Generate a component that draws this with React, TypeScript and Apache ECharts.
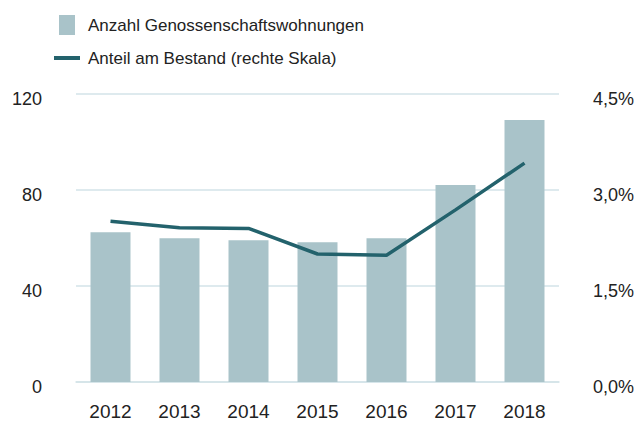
import React, { useEffect, useRef } from "react";
import * as echarts from "echarts";

const years = ["2012", "2013", "2014", "2015", "2016", "2017", "2018"];
const wohnungen = [62.4, 59.9, 59.1, 58.2, 59.9, 82.1, 109.2];
const anteil = [2.51, 2.41, 2.4, 2.0, 1.98, 2.69, 3.42];
const barName = "Anzahl Genossenschaftswohnungen";
const lineName = "Anteil am Bestand (rechte Skala)";

export default function App() {
  const ref = useRef<HTMLDivElement>(null);
  useEffect(() => {
    const chart = echarts.init(ref.current!, null, { renderer: "svg" });
    const font = "'Liberation Sans', Arial, sans-serif";
    const grid = "#d3e3e8";
    const txt = "#222";
    const richV = { v: { fontSize: 18, color: txt, fontFamily: font, padding: [9, 0, 0, 0] } };
    chart.setOption({
      animation: false,
      textStyle: { fontFamily: font },
      legend: [
        {
          data: [{ name: barName, icon: "rect" }],
          left: 59,
          top: 15,
          padding: 0,
          itemWidth: 16,
          itemHeight: 20,
          selectedMode: false,
          textStyle: { fontSize: 17, color: txt, fontFamily: font, padding: [0, 0, 0, 8] },
        },
        {
          data: [{ name: lineName, icon: "rect", itemStyle: { color: "#23626c" } }],
          left: 54,
          top: 48,
          padding: 0,
          itemWidth: 26,
          itemHeight: 4,
          selectedMode: false,
          textStyle: { fontSize: 17, color: txt, fontFamily: font, lineHeight: 20, padding: [0, 0, 0, 3] },
        },
      ],
      grid: { left: 76, right: 84, top: 94, bottom: 35, containLabel: false },
      xAxis: {
        type: "category",
        data: years,
        axisLine: { show: true, lineStyle: { color: grid, width: 1.5 } },
        axisTick: { show: false },
        axisLabel: { fontSize: 19, color: txt, margin: 20, fontFamily: font },
      },
      yAxis: [
        {
          type: "value",
          min: 0,
          max: 120,
          interval: 40,
          axisLine: { show: false },
          axisTick: { show: false },
          splitLine: { lineStyle: { color: grid, width: 1.5 } },
          axisLabel: {
            fontSize: 18,
            color: txt,
            margin: 34,
            fontFamily: font,
            formatter: (v: number) => `{v|${v}}`,
            rich: richV,
          },
        },
        {
          type: "value",
          min: 0,
          max: 4.5,
          interval: 1.5,
          position: "right",
          axisLine: { show: false },
          axisTick: { show: false },
          splitLine: { show: false },
          axisLabel: {
            fontSize: 18,
            color: txt,
            margin: 34,
            fontFamily: font,
            formatter: (v: number) => `{v|${v.toFixed(1).replace(".", ",")}%}`,
            rich: richV,
          },
        },
      ],
      series: [
        {
          name: barName,
          type: "bar",
          data: wohnungen,
          barWidth: 40,
          itemStyle: { color: "#a9c3c9" },
          yAxisIndex: 0,
        },
        {
          name: lineName,
          type: "line",
          data: anteil,
          yAxisIndex: 1,
          symbol: "none",
          lineStyle: { color: "#23626c", width: 3.5 },
          itemStyle: { color: "#23626c" },
        },
      ],
    });
    return () => chart.dispose();
  }, []);
  return <div ref={ref} style={{ width: 643, height: 421, position: "absolute", left: 0, top: 0, background: "#fff" }} />;
}
